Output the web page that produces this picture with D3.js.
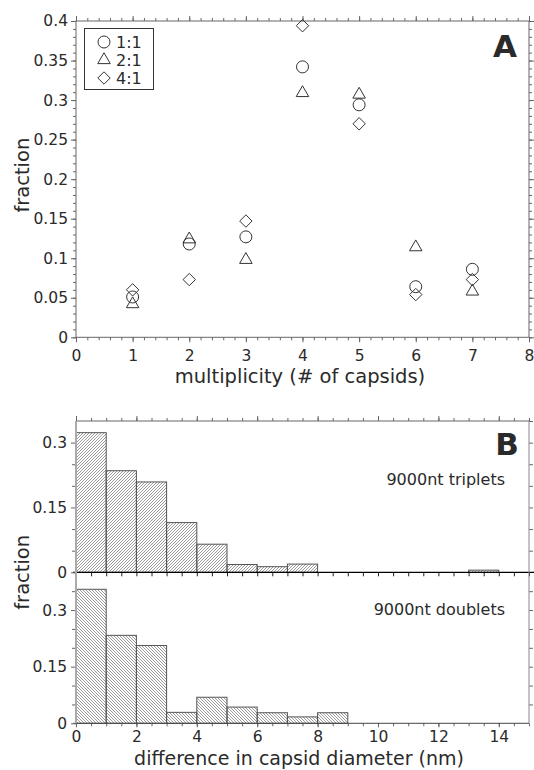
<!DOCTYPE html>
<html>
<head>
<meta charset="utf-8">
<script src="https://cdn.jsdelivr.net/npm/d3@7"></script>
<style>
  body { margin: 0; background: #fff; }
  text { font-family: "DejaVu Sans", sans-serif; fill: #2a2a2a; }
</style>
</head>
<body>
<svg id="chart" width="534" height="770"></svg>
<script>
// panel A: fraction vs multiplicity
const multiplicity = [1, 2, 3, 4, 5, 6, 7]
const ratio11 = [0.051, 0.118, 0.127, 0.342, 0.294, 0.064, 0.086]
const ratio21 = [0.042, 0.124, 0.098, 0.309, 0.307, 0.114, 0.058]
const ratio41 = [0.060, 0.073, 0.147, 0.394, 0.270, 0.054, 0.073]
const seriesNames = ["1:1", "2:1", "4:1"]
const xTicksA = [0, 1, 2, 3, 4, 5, 6, 7, 8]
const yTicksA = [0, 0.05, 0.1, 0.15, 0.2, 0.25, 0.3, 0.35, 0.4]

// panel B: histograms of capsid diameter difference (bins of 1 nm)
const binStarts = [0, 1, 2, 3, 4, 5, 6, 7, 8, 9, 10, 11, 12, 13, 14]
const triplets = [0.323, 0.235, 0.209, 0.115, 0.065, 0.018, 0.013, 0.019, 0, 0, 0, 0, 0, 0.005, 0]
const doublets = [0.355, 0.233, 0.206, 0.029, 0.069, 0.043, 0.028, 0.017, 0.028, 0, 0, 0, 0, 0, 0]
const xTicksB = [0, 2, 4, 6, 8, 10, 12, 14]
const yTicksB = [0, 0.15, 0.3]

const svg = d3.select("#chart")
const axisColor = "#666"
const fmt = d => String(+d.toFixed(3))

function styleAxis(g, color, width) {
    g.select(".domain").remove()
    g.selectAll(".tick line").attr("stroke", color).attr("stroke-width", width || 1)
    g.selectAll(".tick text").style("font-size", "15.5px").attr("fill", "#2a2a2a")
}

// ---------- panel A ----------
const xA = d3.scaleLinear().domain([0, 8]).range([76, 529])
const yA = d3.scaleLinear().domain([0, 0.4]).range([337.3, 21])
const minorXA = d3.range(0, 40.5).map(d => d / 5)
const minorYA = d3.range(0, 40.5).map(d => d / 100)

const gA = svg.append("g")

gA.append("g").attr("transform", `translate(0,${yA(0)})`)
    .call(d3.axisBottom(xA).tickValues(minorXA).tickSize(3).tickFormat(""))
    .call(g => styleAxis(g, axisColor))
gA.append("g").attr("transform", `translate(0,${yA(0)})`)
    .call(d3.axisBottom(xA).tickValues(xTicksA).tickSize(5).tickPadding(8).tickFormat(d3.format("d")))
    .call(g => styleAxis(g, axisColor))
gA.append("g").attr("transform", `translate(0,${yA(0.4)})`)
    .call(d3.axisTop(xA).tickValues(minorXA).tickSize(3).tickFormat(""))
    .call(g => styleAxis(g, axisColor))
gA.append("g").attr("transform", `translate(0,${yA(0.4)})`)
    .call(d3.axisTop(xA).tickValues(xTicksA).tickSize(5).tickFormat(""))
    .call(g => styleAxis(g, axisColor))
gA.append("g").attr("transform", `translate(${xA(0)},0)`)
    .call(d3.axisLeft(yA).tickValues(minorYA).tickSize(3).tickFormat(""))
    .call(g => styleAxis(g, axisColor))
gA.append("g").attr("transform", `translate(${xA(0)},0)`)
    .call(d3.axisLeft(yA).tickValues(yTicksA).tickSize(5).tickPadding(3).tickFormat(fmt))
    .call(g => styleAxis(g, axisColor))
gA.append("g").attr("transform", `translate(${xA(8)},0)`)
    .call(d3.axisRight(yA).tickValues(minorYA).tickSize(3).tickFormat(""))
    .call(g => styleAxis(g, axisColor))
gA.append("g").attr("transform", `translate(${xA(8)},0)`)
    .call(d3.axisRight(yA).tickValues(yTicksA).tickSize(5).tickFormat(""))
    .call(g => styleAxis(g, axisColor))

gA.append("rect")
    .attr("x", xA(0)).attr("y", yA(0.4))
    .attr("width", xA(8) - xA(0)).attr("height", yA(0) - yA(0.4))
    .attr("fill", "none").attr("stroke", axisColor)

const symbols = [
    d3.symbol().type(d3.symbolCircle).size(113),
    d3.symbol().type(d3.symbolTriangle2).size(112),
    d3.symbol().type(d3.symbolDiamond2).size(98)
]
const allSeries = [ratio11, ratio21, ratio41]

allSeries.forEach((vals, s) => {
    gA.append("g").selectAll("path")
        .data(vals)
        .enter()
        .append("path")
        .attr("d", symbols[s])
        .attr("transform", (d, i) => `translate(${xA(multiplicity[i])},${yA(d)})`)
        .attr("fill", "none")
        .attr("stroke", "#333")
        .attr("stroke-width", 1)
})

// legend
const legend = gA.append("g")
legend.append("rect")
    .attr("x", 84.5).attr("y", 28.5).attr("width", 69).attr("height", 61)
    .attr("fill", "#fff").attr("stroke", "#333")
seriesNames.forEach((name, i) => {
    legend.append("path")
        .attr("d", symbols[i])
        .attr("transform", `translate(104,${42 + i * 18})`)
        .attr("fill", "none").attr("stroke", "#333")
    legend.append("text")
        .attr("x", 116).attr("y", 42 + i * 18)
        .attr("dy", "0.36em")
        .style("font-size", "16px")
        .text(name)
})

gA.append("text")
    .attr("x", 505).attr("y", 57)
    .attr("text-anchor", "middle")
    .style("font-size", "31px").style("font-weight", "bold").attr("fill", "#000")
    .text("A")

gA.append("text")
    .attr("x", 300).attr("y", 383)
    .attr("text-anchor", "middle")
    .style("font-size", "19.5px")
    .text("multiplicity (# of capsids)")

gA.append("text")
    .attr("transform", `translate(29,${(yA(0) + yA(0.4)) / 2 - 4}) rotate(-90)`)
    .attr("text-anchor", "middle")
    .style("font-size", "19.5px")
    .text("fraction")

// ---------- panel B ----------
const xB = d3.scaleLinear().domain([0, 15]).range([76, 529])
const yTop = d3.scaleLinear().domain([0, 0.35]).range([572.3, 421])
const yBot = d3.scaleLinear().domain([0, 0.4]).range([723.3, 572.3])
const minorXB = d3.range(0, 30.5).map(d => d / 2)

const defs = svg.append("defs")
defs.append("pattern")
    .attr("id", "hatchUp")
    .attr("patternUnits", "userSpaceOnUse")
    .attr("width", 3).attr("height", 3)
    .append("path")
    .attr("d", "M-1,1 l2,-2 M0,3 l3,-3 M2,4 l2,-2")
    .attr("stroke", "#707070").attr("stroke-width", 0.7)
defs.append("pattern")
    .attr("id", "hatchDown")
    .attr("patternUnits", "userSpaceOnUse")
    .attr("width", 3).attr("height", 3)
    .append("path")
    .attr("d", "M-1,2 l2,2 M0,0 l3,3 M2,-1 l2,2")
    .attr("stroke", "#707070").attr("stroke-width", 0.7)

const gB = svg.append("g")

function drawBars(vals, y, pattern) {
    gB.append("g").selectAll("rect")
        .data(vals.map((v, i) => ({ x0: binStarts[i], v: v })).filter(d => d.v > 0))
        .enter()
        .append("rect")
        .attr("x", d => xB(d.x0))
        .attr("y", d => y(d.v))
        .attr("width", d => xB(d.x0 + 1) - xB(d.x0))
        .attr("height", d => y(0) - y(d.v))
        .attr("fill", `url(#${pattern})`)
        .attr("stroke", "#555")
        .attr("stroke-width", 1)
}
drawBars(triplets, yTop, "hatchUp")
drawBars(doublets, yBot, "hatchDown")

// top border ticks
gB.append("g").attr("transform", `translate(0,${yTop(0.35)})`)
    .call(d3.axisTop(xB).tickValues(minorXB).tickSize(3).tickFormat(""))
    .call(g => styleAxis(g, axisColor))
gB.append("g").attr("transform", `translate(0,${yTop(0.35)})`)
    .call(d3.axisTop(xB).tickValues(xTicksB).tickSize(5).tickFormat(""))
    .call(g => styleAxis(g, axisColor))
gB.append("line")
    .attr("x1", xB(0)).attr("x2", xB(15))
    .attr("y1", yTop(0.35)).attr("y2", yTop(0.35))
    .attr("stroke", axisColor)

// middle zero line (black)
gB.append("g").attr("transform", `translate(0,${yTop(0)})`)
    .call(d3.axisBottom(xB).tickValues(minorXB).tickSize(4).tickFormat(""))
    .call(g => styleAxis(g, "#222"))
gB.append("line")
    .attr("x1", 73).attr("x2", 534)
    .attr("y1", yTop(0)).attr("y2", yTop(0))
    .attr("stroke", "#000").attr("stroke-width", 1.2)

// bottom axis
gB.append("g").attr("transform", `translate(0,${yBot(0)})`)
    .call(d3.axisBottom(xB).tickValues(minorXB).tickSize(3).tickFormat(""))
    .call(g => styleAxis(g, axisColor))
gB.append("g").attr("transform", `translate(0,${yBot(0)})`)
    .call(d3.axisBottom(xB).tickValues(xTicksB).tickSize(4).tickPadding(4).tickFormat(d3.format("d")))
    .call(g => styleAxis(g, axisColor))
gB.append("line")
    .attr("x1", 73).attr("x2", xB(15))
    .attr("y1", yBot(0)).attr("y2", yBot(0))
    .attr("stroke", "#444")

// left and right axes of both histograms
const minorYB = [0.05, 0.1, 0.2, 0.25, 0.35]
;[[yTop, minorYB.filter(d => d < 0.35)], [yBot, minorYB]].forEach(([y, minor]) => {
    gB.append("g").attr("transform", `translate(${xB(0)},0)`)
        .call(d3.axisLeft(y).tickValues(minor).tickSize(4).tickFormat(""))
        .call(g => styleAxis(g, axisColor))
    gB.append("g").attr("transform", `translate(${xB(0)},0)`)
        .call(d3.axisLeft(y).tickValues(yTicksB).tickSize(5).tickPadding(4).tickFormat(fmt))
        .call(g => styleAxis(g, axisColor))
    gB.append("g").attr("transform", `translate(${xB(15)},0)`)
        .call(d3.axisRight(y).tickValues(d3.range(1, 8).map(d => d * 0.05)).tickSize(4).tickFormat(""))
        .call(g => styleAxis(g, axisColor))
})
gB.append("line")
    .attr("x1", xB(0)).attr("x2", xB(0))
    .attr("y1", yTop(0.35)).attr("y2", yBot(0))
    .attr("stroke", "#aaa").attr("stroke-width", 2)
gB.append("line")
    .attr("x1", xB(15)).attr("x2", xB(15))
    .attr("y1", yTop(0.35)).attr("y2", yBot(0))
    .attr("stroke", "#888")

gB.append("text")
    .attr("x", 507).attr("y", 455)
    .attr("text-anchor", "middle")
    .style("font-size", "31px").style("font-weight", "bold").attr("fill", "#000")
    .text("B")
gB.append("text")
    .attr("x", 505).attr("y", 485)
    .attr("text-anchor", "end")
    .style("font-size", "16px").attr("fill", "#333")
    .text("9000nt triplets")
gB.append("text")
    .attr("x", 505).attr("y", 615)
    .attr("text-anchor", "end")
    .style("font-size", "16px").attr("fill", "#333")
    .text("9000nt doublets")

gB.append("text")
    .attr("x", 299).attr("y", 765)
    .attr("text-anchor", "middle")
    .style("font-size", "19px")
    .text("difference in capsid diameter (nm)")
gB.append("text")
    .attr("transform", `translate(29,${yTop(0)}) rotate(-90)`)
    .attr("text-anchor", "middle")
    .style("font-size", "19.5px")
    .text("fraction")
</script>
</body>
</html>
